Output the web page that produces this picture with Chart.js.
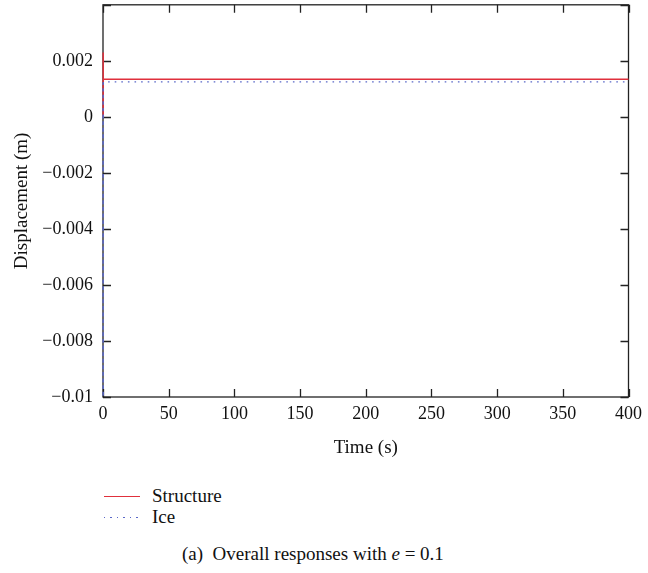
<!DOCTYPE html>
<html>
<head>
<meta charset="utf-8">
<script src="https://cdn.jsdelivr.net/npm/chart.js@4/dist/chart.umd.min.js"></script>
<style>
  html, body { margin: 0; padding: 0; background: #fff; }
  body { width: 648px; height: 573px; position: relative; overflow: hidden;
         font-family: "Liberation Serif", "DejaVu Serif", serif; color: #111; }
  #wrap { position: absolute; left: 0; top: -16px; width: 648px; height: 478px; }
  .leg { position: absolute; left: 104px; font-size: 19px; line-height: 20px; }
  .leg span.sample { display: inline-block; width: 36px; height: 2px; vertical-align: middle;
                     margin-right: 12px; position: relative; top: -1px; }
  #caption { position: absolute; left: 182px; top: 543px; font-size: 19px; line-height: 22px; white-space: pre; }
</style>
</head>
<body>
<div id="wrap"><canvas id="chart"></canvas></div>
<div class="leg" style="top:486px"><span class="sample" style="height:1.5px;background:#e0303c"></span>Structure</div>
<div class="leg" style="top:507px"><span class="sample" style="height:1.5px;background:repeating-linear-gradient(90deg,#5a68c8 0 1.5px,transparent 1.5px 6.5px)"></span>Ice</div>
<div id="caption">(a)  Overall responses with <i>e</i> = 0.1</div>
<script>
// values (time in s, displacement in m)
const timeStructure = [0, 0.05, 0.1, 0.15, 0.2, 0.25, 400];
const structure = [0, 0.0023, 0.0001, 0.0022, 0.0004, 0.00134, 0.00134];
const timeIce = [0, 0.05, 0.1, 0.15, 0.2, 0.25, 400];
const ice = [0, -0.01, 0.0012, -0.01, 0.0011, 0.00125, 0.00125];

const xTicks = [0, 50, 100, 150, 200, 250, 300, 350, 400];
const yTicks = [-0.01, -0.008, -0.006, -0.004, -0.002, 0, 0.002, 0.004];
const yTickLabels = ['\u22120.01', '\u22120.008', '\u22120.006', '\u22120.004', '\u22120.002', '0', '0.002', ''];

const FONT = { family: '"Liberation Serif", "DejaVu Serif", serif', size: 18 };
const TITLE_FONT = { family: '"Liberation Serif", "DejaVu Serif", serif', size: 19 };

// frame + inward ticks on all four sides, under the data lines
const frameTicks = {
  id: 'frameTicks',
  beforeDatasetsDraw(chart) {
    const { ctx, chartArea: a, scales } = chart;
    ctx.save();
    ctx.strokeStyle = '#222';
    ctx.lineWidth = 1.3;
    ctx.strokeRect(a.left, a.top, a.right - a.left, a.bottom - a.top);
    const len = 8;
    ctx.beginPath();
    xTicks.forEach(v => {
      const px = Math.round(scales.x.getPixelForValue(v)) + 0.5;
      ctx.moveTo(px, a.bottom); ctx.lineTo(px, a.bottom - len);
      ctx.moveTo(px, a.top); ctx.lineTo(px, a.top + len);
    });
    yTicks.forEach(v => {
      const py = Math.round(scales.y.getPixelForValue(v)) + 0.5;
      ctx.moveTo(a.left, py); ctx.lineTo(a.left + len, py);
      ctx.moveTo(a.right, py); ctx.lineTo(a.right - len, py);
    });
    ctx.stroke();
    ctx.restore();
  }
};

new Chart(document.getElementById('chart'), {
  type: 'line',
  data: {
    datasets: [
      {
        label: 'Ice',
        data: timeIce.map((t, i) => ({ x: t, y: ice[i] })),
        borderColor: '#5a68c8',
        borderWidth: 1.4,
        borderDash: [1.6, 5],
        pointRadius: 0,
        tension: 0,
        clip: 2,
      },
      {
        label: 'Structure',
        data: timeStructure.map((t, i) => ({ x: t, y: structure[i] })),
        borderColor: '#e0303c',
        borderWidth: 1.5,
        pointRadius: 0,
        tension: 0,
        clip: 2,
      },
    ],
  },
  options: {
    responsive: true,
    maintainAspectRatio: false,
    animation: false,
    layout: { padding: { left: 0, right: 16, top: 6, bottom: 0 } },
    plugins: { legend: { display: false }, tooltip: { enabled: false } },
    scales: {
      x: {
        type: 'linear',
        min: 0, max: 400,
        afterBuildTicks: s => { s.ticks = xTicks.map(v => ({ value: v })); },
        afterFit: s => { s.height = 65; },
        grid: { display: false, drawTicks: false },
        border: { display: false },
        ticks: { color: '#111', font: FONT, padding: 6, maxRotation: 0, autoSkip: false },
        title: { display: true, text: 'Time (s)', color: '#111', font: TITLE_FONT, padding: { top: 4, bottom: 3 } },
      },
      y: {
        type: 'linear',
        min: -0.01, max: 0.004,
        afterBuildTicks: s => { s.ticks = yTicks.map(v => ({ value: v })); },
        afterFit: s => { s.width = 103; },
        grid: { display: false, drawTicks: false },
        border: { display: false },
        ticks: {
          color: '#111', font: FONT, padding: 10, autoSkip: false,
          callback: (v, i) => yTickLabels[i],
        },
        title: { display: true, text: 'Displacement (m)', color: '#111', font: TITLE_FONT, padding: { top: 11, bottom: 4 } },
      },
    },
  },
  plugins: [frameTicks],
});
</script>
</body>
</html>
